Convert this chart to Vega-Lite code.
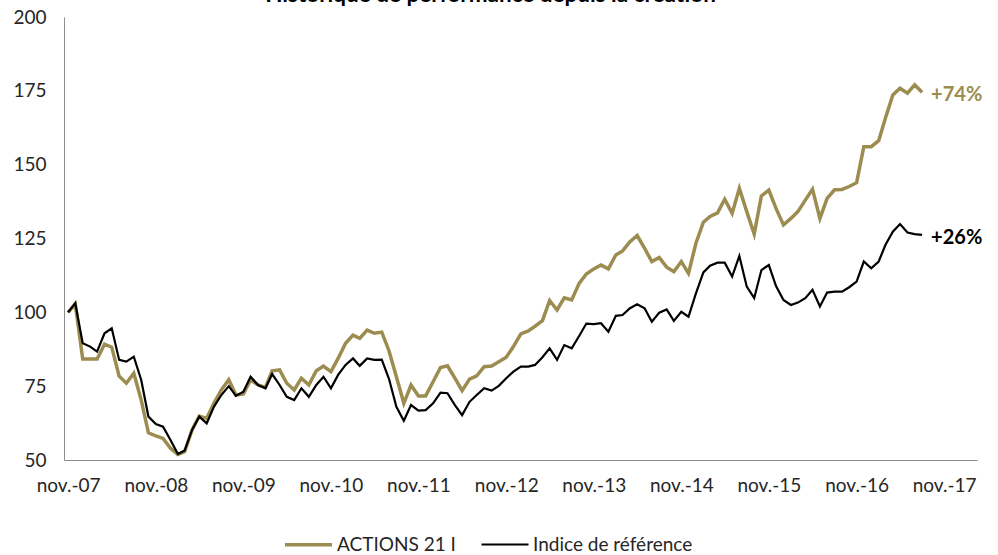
{
  "$schema": "https://vega.github.io/schema/vega-lite/v6.json",
  "width": 913,
  "height": 443,
  "autosize": {"type": "none"},
  "padding": {"left": 64, "top": 17, "right": 21, "bottom": 95},
  "background": "white",
  "config": {"view": {"stroke": null}, "font": "Lato"},
  "title": {"text": "Historique de performance depuis la création", "fontSize": 22.5, "fontWeight": "bold", "font": "Lato", "color": "#000000", "anchor": "middle", "dx": -30, "dy": 16, "baseline": "alphabetic", "offset": 0},
  "datasets": {
    "perf": [
      {"d": "2007-11-01", "ACTIONS 21 I": 100, "Indice de référence": 100},
      {"d": "2007-12-01", "ACTIONS 21 I": 102.8, "Indice de référence": 103.1},
      {"d": "2008-01-01", "ACTIONS 21 I": 84.2, "Indice de référence": 89.5},
      {"d": "2008-02-01", "ACTIONS 21 I": 84.2, "Indice de référence": 88.4},
      {"d": "2008-03-01", "ACTIONS 21 I": 84.2, "Indice de référence": 86.7},
      {"d": "2008-04-01", "ACTIONS 21 I": 89.2, "Indice de référence": 92.9},
      {"d": "2008-05-01", "ACTIONS 21 I": 88.2, "Indice de référence": 94.6},
      {"d": "2008-06-01", "ACTIONS 21 I": 78.4, "Indice de référence": 83.9},
      {"d": "2008-07-01", "ACTIONS 21 I": 76, "Indice de référence": 83.3},
      {"d": "2008-08-01", "ACTIONS 21 I": 79.4, "Indice de référence": 85},
      {"d": "2008-09-01", "ACTIONS 21 I": 70.3, "Indice de référence": 77.1},
      {"d": "2008-10-01", "ACTIONS 21 I": 59.2, "Indice de référence": 64.7},
      {"d": "2008-11-01", "ACTIONS 21 I": 58.2, "Indice de référence": 62.2},
      {"d": "2008-12-01", "ACTIONS 21 I": 57.3, "Indice de référence": 61.3},
      {"d": "2009-01-01", "ACTIONS 21 I": 54, "Indice de référence": 56.8},
      {"d": "2009-02-01", "ACTIONS 21 I": 51.9, "Indice de référence": 52},
      {"d": "2009-03-01", "ACTIONS 21 I": 52.8, "Indice de référence": 53.2},
      {"d": "2009-04-01", "ACTIONS 21 I": 60.2, "Indice de référence": 60.2},
      {"d": "2009-05-01", "ACTIONS 21 I": 64.9, "Indice de référence": 64.7},
      {"d": "2009-06-01", "ACTIONS 21 I": 64.1, "Indice de référence": 62.4},
      {"d": "2009-07-01", "ACTIONS 21 I": 69.2, "Indice de référence": 68},
      {"d": "2009-08-01", "ACTIONS 21 I": 73.7, "Indice de référence": 72},
      {"d": "2009-09-01", "ACTIONS 21 I": 77.2, "Indice de référence": 75},
      {"d": "2009-10-01", "ACTIONS 21 I": 72, "Indice de référence": 71.7},
      {"d": "2009-11-01", "ACTIONS 21 I": 72.4, "Indice de référence": 73.1},
      {"d": "2009-12-01", "ACTIONS 21 I": 77.1, "Indice de référence": 78.2},
      {"d": "2010-01-01", "ACTIONS 21 I": 75.4, "Indice de référence": 75.4},
      {"d": "2010-02-01", "ACTIONS 21 I": 74.6, "Indice de référence": 74.3},
      {"d": "2010-03-01", "ACTIONS 21 I": 80.2, "Indice de référence": 79.1},
      {"d": "2010-04-01", "ACTIONS 21 I": 80.5, "Indice de référence": 75.4},
      {"d": "2010-05-01", "ACTIONS 21 I": 76, "Indice de référence": 71.4},
      {"d": "2010-06-01", "ACTIONS 21 I": 73.7, "Indice de référence": 70.3},
      {"d": "2010-07-01", "ACTIONS 21 I": 77.7, "Indice de référence": 74.3},
      {"d": "2010-08-01", "ACTIONS 21 I": 75.4, "Indice de référence": 71.4},
      {"d": "2010-09-01", "ACTIONS 21 I": 80.2, "Indice de référence": 75.4},
      {"d": "2010-10-01", "ACTIONS 21 I": 81.8, "Indice de référence": 78.2},
      {"d": "2010-11-01", "ACTIONS 21 I": 79.9, "Indice de référence": 74.3},
      {"d": "2010-12-01", "ACTIONS 21 I": 84.4, "Indice de référence": 78.8},
      {"d": "2011-01-01", "ACTIONS 21 I": 89.5, "Indice de référence": 82.2},
      {"d": "2011-02-01", "ACTIONS 21 I": 92.3, "Indice de référence": 84.4},
      {"d": "2011-03-01", "ACTIONS 21 I": 91.2, "Indice de référence": 81.9},
      {"d": "2011-04-01", "ACTIONS 21 I": 94, "Indice de référence": 84.4},
      {"d": "2011-05-01", "ACTIONS 21 I": 92.9, "Indice de référence": 83.9},
      {"d": "2011-06-01", "ACTIONS 21 I": 93.3, "Indice de référence": 84},
      {"d": "2011-07-01", "ACTIONS 21 I": 87, "Indice de référence": 77.5},
      {"d": "2011-08-01", "ACTIONS 21 I": 78.2, "Indice de référence": 68},
      {"d": "2011-09-01", "ACTIONS 21 I": 69.2, "Indice de référence": 63.3},
      {"d": "2011-10-01", "ACTIONS 21 I": 75.4, "Indice de référence": 68.6},
      {"d": "2011-11-01", "ACTIONS 21 I": 71.7, "Indice de référence": 66.7},
      {"d": "2011-12-01", "ACTIONS 21 I": 71.7, "Indice de référence": 66.9},
      {"d": "2012-01-01", "ACTIONS 21 I": 76.5, "Indice de référence": 69.2},
      {"d": "2012-02-01", "ACTIONS 21 I": 81.3, "Indice de référence": 72.8},
      {"d": "2012-03-01", "ACTIONS 21 I": 81.9, "Indice de référence": 72.6},
      {"d": "2012-04-01", "ACTIONS 21 I": 77.7, "Indice de référence": 68.6},
      {"d": "2012-05-01", "ACTIONS 21 I": 73.5, "Indice de référence": 65.2},
      {"d": "2012-06-01", "ACTIONS 21 I": 77.4, "Indice de référence": 69.7},
      {"d": "2012-07-01", "ACTIONS 21 I": 78.5, "Indice de référence": 72},
      {"d": "2012-08-01", "ACTIONS 21 I": 81.6, "Indice de référence": 74.3},
      {"d": "2012-09-01", "ACTIONS 21 I": 81.8, "Indice de référence": 73.5},
      {"d": "2012-10-01", "ACTIONS 21 I": 83.3, "Indice de référence": 75.1},
      {"d": "2012-11-01", "ACTIONS 21 I": 84.8, "Indice de référence": 77.7},
      {"d": "2012-12-01", "ACTIONS 21 I": 88.4, "Indice de référence": 79.9},
      {"d": "2013-01-01", "ACTIONS 21 I": 92.7, "Indice de référence": 81.6},
      {"d": "2013-02-01", "ACTIONS 21 I": 93.7, "Indice de référence": 81.6},
      {"d": "2013-03-01", "ACTIONS 21 I": 95.3, "Indice de référence": 82.2},
      {"d": "2013-04-01", "ACTIONS 21 I": 97.2, "Indice de référence": 84.8},
      {"d": "2013-05-01", "ACTIONS 21 I": 104, "Indice de référence": 87.8},
      {"d": "2013-06-01", "ACTIONS 21 I": 100.8, "Indice de référence": 83.9},
      {"d": "2013-07-01", "ACTIONS 21 I": 104.9, "Indice de référence": 88.9},
      {"d": "2013-08-01", "ACTIONS 21 I": 104.2, "Indice de référence": 87.8},
      {"d": "2013-09-01", "ACTIONS 21 I": 109.8, "Indice de référence": 92},
      {"d": "2013-10-01", "ACTIONS 21 I": 113, "Indice de référence": 96.2},
      {"d": "2013-11-01", "ACTIONS 21 I": 114.7, "Indice de référence": 96},
      {"d": "2013-12-01", "ACTIONS 21 I": 116, "Indice de référence": 96.3},
      {"d": "2014-01-01", "ACTIONS 21 I": 114.7, "Indice de référence": 93.4},
      {"d": "2014-02-01", "ACTIONS 21 I": 119.4, "Indice de référence": 98.8},
      {"d": "2014-03-01", "ACTIONS 21 I": 120.8, "Indice de référence": 99.1},
      {"d": "2014-04-01", "ACTIONS 21 I": 123.9, "Indice de référence": 101.4},
      {"d": "2014-05-01", "ACTIONS 21 I": 126, "Indice de référence": 102.7},
      {"d": "2014-06-01", "ACTIONS 21 I": 121.7, "Indice de référence": 101.4},
      {"d": "2014-07-01", "ACTIONS 21 I": 117.2, "Indice de référence": 96.8},
      {"d": "2014-08-01", "ACTIONS 21 I": 118.6, "Indice de référence": 99.9},
      {"d": "2014-09-01", "ACTIONS 21 I": 115.3, "Indice de référence": 101},
      {"d": "2014-10-01", "ACTIONS 21 I": 113.8, "Indice de référence": 97.1},
      {"d": "2014-11-01", "ACTIONS 21 I": 117.2, "Indice de référence": 100.2},
      {"d": "2014-12-01", "ACTIONS 21 I": 113.2, "Indice de référence": 98.5},
      {"d": "2015-01-01", "ACTIONS 21 I": 123.4, "Indice de référence": 106.4},
      {"d": "2015-02-01", "ACTIONS 21 I": 130.5, "Indice de référence": 113.5},
      {"d": "2015-03-01", "ACTIONS 21 I": 132.5, "Indice de référence": 115.8},
      {"d": "2015-04-01", "ACTIONS 21 I": 133.7, "Indice de référence": 116.8},
      {"d": "2015-05-01", "ACTIONS 21 I": 138.3, "Indice de référence": 116.8},
      {"d": "2015-06-01", "ACTIONS 21 I": 133.5, "Indice de référence": 112.1},
      {"d": "2015-07-01", "ACTIONS 21 I": 142, "Indice de référence": 119.1},
      {"d": "2015-08-01", "ACTIONS 21 I": 134.1, "Indice de référence": 108.7},
      {"d": "2015-09-01", "ACTIONS 21 I": 126.5, "Indice de référence": 104.8},
      {"d": "2015-10-01", "ACTIONS 21 I": 139.4, "Indice de référence": 114.3},
      {"d": "2015-11-01", "ACTIONS 21 I": 141.4, "Indice de référence": 116},
      {"d": "2015-12-01", "ACTIONS 21 I": 135.2, "Indice de référence": 108.9},
      {"d": "2016-01-01", "ACTIONS 21 I": 129.6, "Indice de référence": 104.2},
      {"d": "2016-02-01", "ACTIONS 21 I": 131.8, "Indice de référence": 102.5},
      {"d": "2016-03-01", "ACTIONS 21 I": 134.1, "Indice de référence": 103.3},
      {"d": "2016-04-01", "ACTIONS 21 I": 138, "Indice de référence": 104.8},
      {"d": "2016-05-01", "ACTIONS 21 I": 141.7, "Indice de référence": 107.6},
      {"d": "2016-06-01", "ACTIONS 21 I": 131.8, "Indice de référence": 102},
      {"d": "2016-07-01", "ACTIONS 21 I": 138.6, "Indice de référence": 106.7},
      {"d": "2016-08-01", "ACTIONS 21 I": 141.5, "Indice de référence": 107},
      {"d": "2016-09-01", "ACTIONS 21 I": 141.6, "Indice de référence": 107},
      {"d": "2016-10-01", "ACTIONS 21 I": 142.6, "Indice de référence": 108.5},
      {"d": "2016-11-01", "ACTIONS 21 I": 143.9, "Indice de référence": 110.4},
      {"d": "2016-12-01", "ACTIONS 21 I": 156.1, "Indice de référence": 117.2},
      {"d": "2017-01-01", "ACTIONS 21 I": 156.1, "Indice de référence": 114.9},
      {"d": "2017-02-01", "ACTIONS 21 I": 158.1, "Indice de référence": 117.2},
      {"d": "2017-03-01", "ACTIONS 21 I": 165.7, "Indice de référence": 122.8},
      {"d": "2017-04-01", "ACTIONS 21 I": 173.6, "Indice de référence": 127.3},
      {"d": "2017-05-01", "ACTIONS 21 I": 175.9, "Indice de référence": 129.9},
      {"d": "2017-06-01", "ACTIONS 21 I": 174.2, "Indice de référence": 127},
      {"d": "2017-07-01", "ACTIONS 21 I": 177, "Indice de référence": 126.5},
      {"d": "2017-08-01", "ACTIONS 21 I": 174.5, "Indice de référence": 126.2}
    ],
    "labels": [
      {"d": "2017-08-01", "series": "ACTIONS 21 I", "v": 174.5, "label": "+74%"},
      {"d": "2017-08-01", "series": "Indice de référence", "v": 126.2, "label": "+26%"}
    ]
  },
  "layer": [
    {
      "data": {"name": "perf"},
      "transform": [{"fold": ["ACTIONS 21 I", "Indice de référence"], "as": ["series", "v"]}],
      "mark": {"type": "line", "interpolate": "linear"},
      "encoding": {
        "x": {
          "field": "d", "type": "temporal",
          "scale": {"type": "utc", "nice": false, "domain": [{"year": 2007, "month": 10, "date": 15, "utc": true}, {"year": 2018, "month": 3, "date": 18, "utc": true}]},
          "axis": {
            "title": null, "grid": false, "ticks": false, "domainColor": "#8c8c8c", "domainWidth": 1,
            "values": [
              {"year": 2007, "month": 11, "date": 1, "utc": true},
              {"year": 2008, "month": 11, "date": 1, "utc": true},
              {"year": 2009, "month": 11, "date": 1, "utc": true},
              {"year": 2010, "month": 11, "date": 1, "utc": true},
              {"year": 2011, "month": 11, "date": 1, "utc": true},
              {"year": 2012, "month": 11, "date": 1, "utc": true},
              {"year": 2013, "month": 11, "date": 1, "utc": true},
              {"year": 2014, "month": 11, "date": 1, "utc": true},
              {"year": 2015, "month": 11, "date": 1, "utc": true},
              {"year": 2016, "month": 11, "date": 1, "utc": true},
              {"year": 2017, "month": 11, "date": 1, "utc": true}
            ],
            "labelExpr": "'nov.-' + utcFormat(datum.value, '%y')",
            "labelFont": "Lato", "labelFontSize": 19, "labelColor": "#262626", "labelPadding": 16, "labelFlush": false, "labelOverlap": false
          }
        },
        "y": {
          "field": "v", "type": "quantitative",
          "scale": {"domain": [50, 200], "nice": false, "zero": false},
          "axis": {"title": null, "grid": false, "ticks": false, "domainColor": "#8c8c8c", "values": [50, 75, 100, 125, 150, 175, 200], "labelFont": "Lato", "labelFontSize": 19, "labelColor": "#262626", "labelPadding": 18}
        },
        "color": {
          "field": "series", "type": "nominal",
          "scale": {"domain": ["ACTIONS 21 I", "Indice de référence"], "range": ["#9C8C50", "#000000"]},
          "legend": {"title": null, "orient": "none", "legendX": 219, "legendY": 502, "direction": "horizontal", "symbolType": "stroke", "symbolSize": 2209, "symbolStrokeWidth": 3, "labelFont": "Lato", "labelFontSize": 19, "labelLimit": 300, "labelColor": "#262626", "columnPadding": 21, "labelOffset": 3}
        },
        "strokeWidth": {
          "field": "series", "type": "nominal",
          "scale": {"domain": ["ACTIONS 21 I", "Indice de référence"], "range": [3.5, 2.2]},
          "legend": null
        }
      }
    },
    {
      "data": {"name": "labels"},
      "mark": {"type": "text", "align": "left", "baseline": "middle", "dx": 9, "dy": 3, "fontSize": 20, "fontWeight": "bold", "font": "Lato"},
      "encoding": {
        "x": {"field": "d", "type": "temporal"},
        "y": {"field": "v", "type": "quantitative"},
        "text": {"field": "label"},
        "color": {"field": "series", "type": "nominal"}
      }
    }
  ]
}
